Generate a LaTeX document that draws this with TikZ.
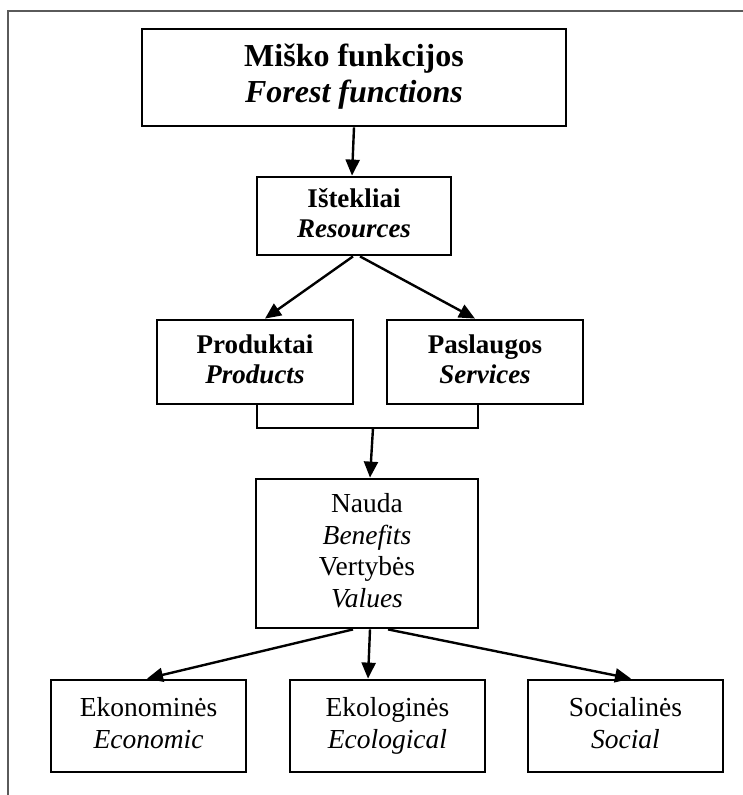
\documentclass[tikz,border=0pt]{standalone}
\usepackage{fontspec}
\setmainfont{Liberation Serif}
\usetikzlibrary{arrows.meta}
\definecolor{framegray}{HTML}{5A5A5A}
\tikzset{
  box/.style={draw=black, line width=2.8pt, inner sep=0pt, align=center, fill=white},
  bigtext/.style={font=\fontsize{32}{36}\selectfont},
  midtext/.style={font=\fontsize{27}{30}\selectfont},
  lowtext/.style={font=\fontsize{27.5}{31.5}\selectfont},
  arr/.style={line width=2.4pt, -{Triangle[length=16pt,width=14pt]}},
  plain/.style={line width=2.4pt}
}
\begin{document}
\begin{tikzpicture}[x=1pt,y=-1pt]
\useasboundingbox (0,0) rectangle (743,795);
\draw[framegray, line width=1.5pt] (8,800) -- (8,11) -- (750,11);

\node[box, bigtext, minimum width=424pt, minimum height=97pt] (top) at (354,77.5)
  {\strut\textbf{Miško funkcijos}\\\textbf{\textit{Forest functions}}\strut};
\node[box, midtext, minimum width=194pt, minimum height=78pt] (ist) at (354,216)
  {\strut\textbf{Ištekliai}\\\textbf{\textit{Resources}}\strut};
\node[box, midtext, minimum width=196pt, minimum height=84pt] (prod) at (255,362)
  {\strut\textbf{Produktai}\\\textbf{\textit{Products}}\strut};
\node[box, midtext, minimum width=196pt, minimum height=84pt] (pasl) at (485,362)
  {\strut\textbf{Paslaugos}\\\textbf{\textit{Services}}\strut};
\node[box, lowtext, minimum width=222pt, minimum height=149pt] (nauda) at (367,553.5)
  {\strut Nauda\\\textit{Benefits}\\Vertybės\\\textit{Values}\strut};
\node[box, lowtext, minimum width=195pt, minimum height=92pt] (eko) at (148.5,726)
  {\strut Ekonominės\\\textit{Economic}\strut};
\node[box, lowtext, minimum width=195pt, minimum height=92pt] (ekol) at (387.5,726)
  {\strut Ekologinės\\\textit{Ecological}\strut};
\node[box, lowtext, minimum width=195pt, minimum height=92pt] (soc) at (625.5,726)
  {\strut Socialinės\\\textit{Social}\strut};

\draw[arr] (top.south) -- ([xshift=-2pt]ist.north);
\draw[arr] ([xshift=-1pt]ist.south) -- ([xshift=10pt]prod.north);
\draw[arr] ([xshift=6pt]ist.south) -- ([xshift=-10pt]pasl.north);

\coordinate (join) at (373,428);
\draw[plain] ([xshift=2pt]prod.south) |- (join) -| ([xshift=-7pt]pasl.south);
\draw[arr] (join) -- ([xshift=3pt]nauda.north);

\draw[arr] ([xshift=-14pt]nauda.south) -- ([xshift=-1.5pt]eko.north);
\draw[arr] ([xshift=3pt]nauda.south) -- ([xshift=-19.5pt]ekol.north);
\draw[arr] ([xshift=21pt]nauda.south) -- ([xshift=5.5pt]soc.north);
\end{tikzpicture}
\end{document}
